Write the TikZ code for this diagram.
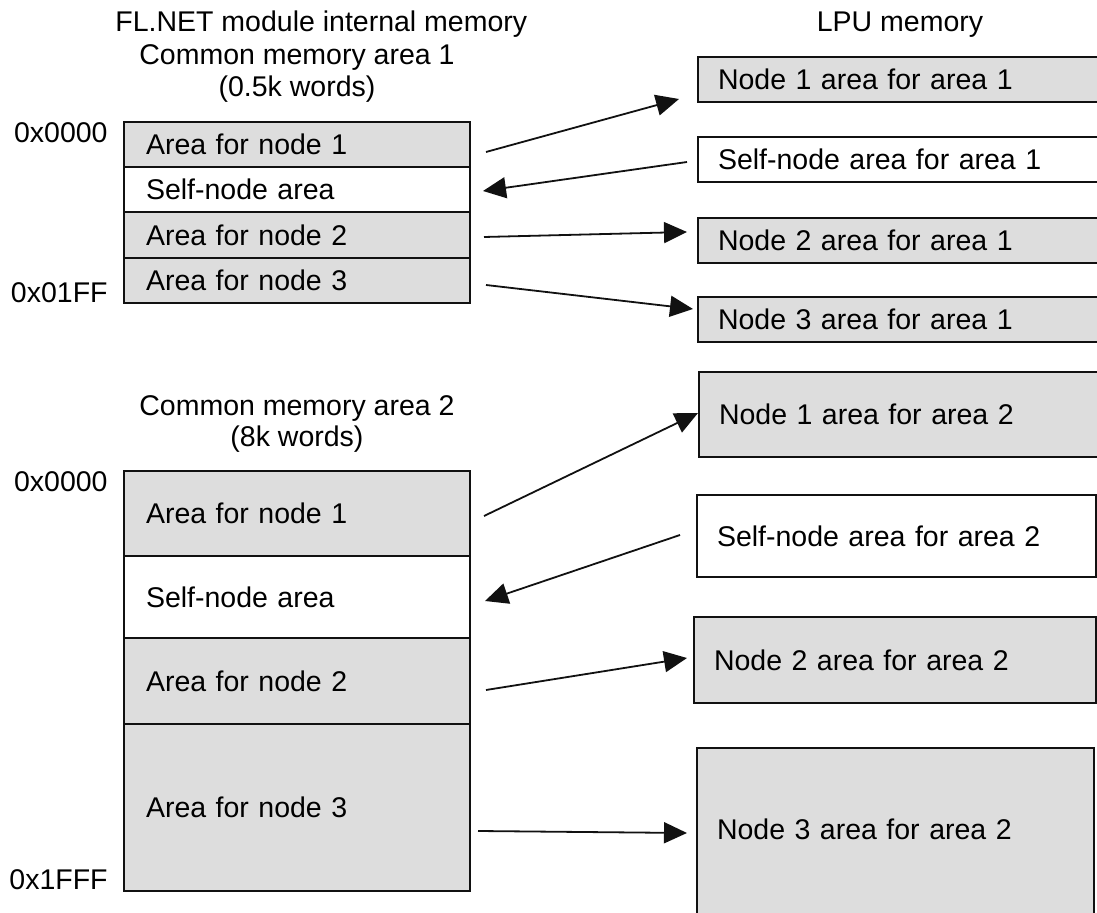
\documentclass[tikz,border=0pt]{standalone}
\usepackage{fontspec}
\setmainfont{Liberation Sans}
\usetikzlibrary{arrows.meta}
\definecolor{memfill}{HTML}{DDDDDD}
\definecolor{memink}{HTML}{111111}
\tikzset{
  cell/.style={draw=memink, line width=1pt, fill=memfill, align=left, inner xsep=11pt, inner ysep=0pt, text width=151pt},
  own/.style={cell, fill=white},
  lpu/.style={draw=memink, line width=1pt, fill=memfill, align=left, inner xsep=10pt, inner ysep=0pt},
  lpuown/.style={lpu, fill=white},
  addr/.style={anchor=base east, inner sep=0pt},
  ttl/.style={anchor=base, inner sep=0pt},
  arr/.style={-{Triangle[length=11.5pt, width=10.5pt]}, line width=0.9pt, color=memink},
}
\begin{document}
\begin{tikzpicture}[x=0.5pt, y=-0.5pt, font=\fontsize{14.25pt}{17pt}\selectfont]
  \useasboundingbox (0,0) rectangle (1097,913);
  % titles
  \node[ttl, anchor=base west] (tfl) at (115,32) {FL.NET module internal memory};
  \node[ttl] (tlpu) at (900,32) {LPU memory};
  \node[ttl] (tca1) at (297,65) {Common memory area 1};
  \node[ttl] (tw1) at (297,97) {(0.5k words)};
  \node[ttl] (tca2) at (297,416) {Common memory area 2};
  \node[ttl] (tw2) at (297,447) {(8k words)};
  % addresses
  \node[addr] (ad1s) at (108,143) {0x0000};
  \node[addr] (ad1e) at (108,303) {0x01FF};
  \node[addr] (ad2s) at (108,492) {0x0000};
  \node[addr] (ad2e) at (108,889) {0x1FFF};
  % common memory area 1
  \node[cell, minimum height=22.5pt] (a1) at (297,144.5) {Area for node 1};
  \node[own, minimum height=22.5pt] (s1) at (297,189.5) {Self-node area};
  \node[cell, minimum height=23pt] (b1) at (297,235) {Area for node 2};
  \node[cell, minimum height=22.5pt] (c1) at (297,280.5) {Area for node 3};
  % common memory area 2
  \node[cell, minimum height=42.5pt] (a2) at (297,513.5) {Area for node 1};
  \node[own, minimum height=41pt] (s2) at (297,597) {Self-node area};
  \node[cell, minimum height=43pt] (b2) at (297,681) {Area for node 2};
  \node[cell, minimum height=83.5pt] (c2) at (297,807.5) {Area for node 3};
  % LPU side, area 1
  \node[lpu, text width=181pt, minimum height=22.5pt] (n1a) at (899,79.5) {Node 1 area for area 1};
  \node[lpuown, text width=181pt, minimum height=22.5pt] (m1a) at (899,159.5) {Self-node area for area 1};
  \node[lpu, text width=181pt, minimum height=22.5pt] (n2a) at (899,240.5) {Node 2 area for area 1};
  \node[lpu, text width=181pt, minimum height=22.5pt] (n3a) at (899,319.5) {Node 3 area for area 1};
  % LPU side, area 2
  \node[lpu, text width=180.5pt, minimum height=42.5pt] (n1b) at (899.5,414.5) {Node 1 area for area 2};
  \node[lpuown, text width=179.5pt, minimum height=41pt] (m1b) at (896.5,536) {Self-node area for area 2};
  \node[lpu, text width=181pt, minimum height=43pt] (n2b) at (895,660) {Node 2 area for area 2};
  \node[lpu, text width=178.5pt, text depth=10pt, minimum height=91pt] (n3b) at (895.5,839) {Node 3 area for area 2};
  % transfers
  \draw[arr] ([shift={(15,7.5)}]a1.east) -- ([shift={(-18,-4)}]n1a.south west);
  \draw[arr] ([shift={(-10,2.5)}]m1a.west) -- ([shift={(12,1.5)}]s1.east);
  \draw[arr] ([shift={(13,2)}]b1.east) -- ([shift={(-10,-8.5)}]n2a.west);
  \draw[arr] ([shift={(15,4.5)}]c1.east) -- ([shift={(-4,-10.5)}]n3a.west);
  \draw[arr] ([shift={(13,2.5)}]a2.east) -- ([shift={(0,-1.5)}]n1b.west);
  \draw[arr] ([shift={(-16,-1)}]m1b.west) -- ([shift={(14,4)}]s2.east);
  \draw[arr] ([shift={(15,9)}]b2.east) -- ([shift={(-6,-2)}]n2b.west);
  \draw[arr] ([shift={(7,23.5)}]c2.east) -- ([shift={(-9,-6)}]n3b.west);
\end{tikzpicture}
\end{document}
